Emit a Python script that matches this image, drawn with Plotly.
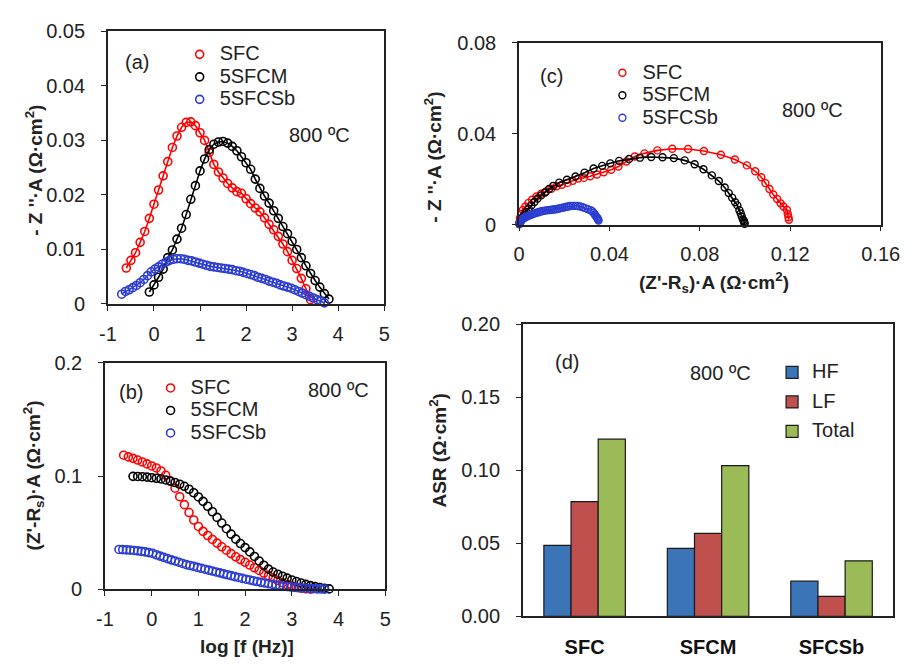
import plotly.graph_objects as go

W, H = 921, 666
FONT = "Arial, Liberation Sans, sans-serif"
INK = "#222222"

# ---------------- impedance data at 800 ºC ----------------
# log frequency grids (log10 of Hz)
logf_sfc = [-0.9, -0.8, -0.7, -0.6, -0.5, -0.4, -0.3, -0.2, -0.1, 0.0, 0.1, 0.2, 0.3, 0.4,
            0.5, 0.6, 0.7, 0.8, 0.9, 1.0, 1.1, 1.2, 1.3, 1.4, 1.5, 1.6, 1.7, 1.8, 1.9,
            2.0, 2.1, 2.2, 2.3, 2.4, 2.5, 2.6, 2.7, 2.8, 2.9, 3.0, 3.1, 3.2, 3.3, 3.4]
logf_sfcm = [-0.4, -0.3, -0.2, -0.1, 0.0, 0.1, 0.2, 0.3, 0.4, 0.5, 0.6, 0.7, 0.8, 0.9,
             1.0, 1.1, 1.2, 1.3, 1.4, 1.5, 1.6, 1.7, 1.8, 1.9, 2.0, 2.1, 2.2, 2.3, 2.4,
             2.5, 2.6, 2.7, 2.8, 2.9, 3.0, 3.1, 3.2, 3.3, 3.4, 3.5, 3.6, 3.7, 3.8]
logf_sfcsb = [-0.70, -0.62, -0.54, -0.46, -0.38, -0.30, -0.22, -0.14, -0.06, 0.02, 0.10,
              0.18, 0.26, 0.34, 0.42, 0.50, 0.58, 0.66, 0.74, 0.82, 0.90, 0.98, 1.06,
              1.14, 1.22, 1.30, 1.38, 1.46, 1.54, 1.62, 1.70, 1.78, 1.86, 1.94, 2.02,
              2.10, 2.18, 2.26, 2.34, 2.42, 2.50, 2.58, 2.66, 2.74, 2.82, 2.90, 2.98,
              3.06, 3.14, 3.22, 3.30, 3.38, 3.46, 3.54, 3.62, 3.70]

# (Z'-Rs)·A, ohm·cm2
zre_sfc = [0.1194, 0.1192, 0.1189,
           0.1185, 0.1170, 0.1157, 0.1142, 0.1125, 0.1108, 0.1090, 0.1072, 0.1045, 0.1008,
           0.0955, 0.0893, 0.0818, 0.0748, 0.0678, 0.0612, 0.0555, 0.0512, 0.0475, 0.0440,
           0.0408, 0.0375, 0.0345, 0.0315, 0.0287, 0.0262, 0.0238, 0.0214, 0.0190, 0.0166,
           0.0143, 0.0120, 0.0098, 0.0077, 0.0058, 0.0042, 0.0028, 0.0017, 0.0009, 0.0004,
           0.0001]
zre_sfcm = [0.0998, 0.0997, 0.0995, 0.0991, 0.0986, 0.0981, 0.0975, 0.0966, 0.0956, 0.0943,
            0.0928, 0.0910, 0.0884, 0.0853, 0.0816, 0.0777, 0.0733, 0.0685, 0.0635, 0.0585,
            0.0535, 0.0487, 0.0443, 0.0404, 0.0368, 0.0330, 0.0290, 0.0250, 0.0212, 0.0178,
            0.0152, 0.0133, 0.0115, 0.0098, 0.0082, 0.0068, 0.0055, 0.0043, 0.0032, 0.0023,
            0.0015, 0.0008, 0.0003]
zre_sfcsb = [0.0352, 0.0350, 0.0348, 0.0346, 0.0343, 0.0339, 0.0335, 0.0330, 0.0324, 0.0317,
             0.0305, 0.0293, 0.0282, 0.0271, 0.0260, 0.0250, 0.0239, 0.0228, 0.0218, 0.0210,
             0.0202, 0.0193, 0.0185, 0.0177, 0.0169, 0.0161, 0.0153, 0.0145, 0.0136, 0.0128,
             0.0120, 0.0112, 0.0104, 0.0096, 0.0089, 0.0082, 0.0075, 0.0068, 0.0061, 0.0055,
             0.0049, 0.0043, 0.0038, 0.0033, 0.0028, 0.0024, 0.0020, 0.0017, 0.0014, 0.0011,
             0.0009, 0.0007, 0.0005, 0.0003, 0.0002, 0.0001]

# -Z''·A, ohm·cm2
zim_sfc = [0.0022, 0.0033, 0.0047,
           0.0066, 0.0080, 0.0094, 0.0113, 0.0133, 0.0157, 0.0183, 0.0209, 0.0235, 0.0261,
           0.0287, 0.0308, 0.0324, 0.0333, 0.0334, 0.0327, 0.0314, 0.0300, 0.0278, 0.0256,
           0.0242, 0.0231, 0.0221, 0.0213, 0.0206, 0.0203, 0.0193, 0.0184, 0.0176, 0.0169,
           0.0158, 0.0146, 0.0136, 0.0124, 0.0110, 0.0096, 0.0080, 0.0065, 0.0047, 0.0028,
           0.0008]
zim_sfcm = [0.0004, 0.0010, 0.0016, 0.0022, 0.0035, 0.0049, 0.0064, 0.0085, 0.0099, 0.0119,
            0.0139, 0.0164, 0.0192, 0.0217, 0.0244, 0.0266, 0.0283, 0.0293, 0.0297, 0.0298,
            0.0295, 0.0289, 0.0281, 0.0270, 0.0259, 0.0247, 0.0229, 0.0212, 0.0198, 0.0185,
            0.0171, 0.0157, 0.0142, 0.0129, 0.0115, 0.0100, 0.0085, 0.0070, 0.0056, 0.0043,
            0.0031, 0.0019, 0.0009]
zim_sfcsb = [0.0018, 0.0023, 0.0026, 0.0030, 0.0034, 0.0039, 0.0045, 0.0052, 0.0059, 0.0064,
             0.0068, 0.0073, 0.0077, 0.0080, 0.0082, 0.0083, 0.0083, 0.0082, 0.0080, 0.0079,
             0.0077, 0.0075, 0.0073, 0.0071, 0.0069, 0.0068, 0.0067, 0.0066, 0.0065, 0.0064,
             0.0063, 0.0061, 0.0060, 0.0058, 0.0056, 0.0054, 0.0052, 0.0049, 0.0047, 0.0045,
             0.0042, 0.0040, 0.0038, 0.0035, 0.0033, 0.0031, 0.0029, 0.0026, 0.0023, 0.0020,
             0.0017, 0.0014, 0.0011, 0.0008, 0.0005, 0.0002]

# lowest log f shown in the two Bode panels for each sample
bode_im_from = {"SFC": -0.6, "5SFCM": -0.1, "5SFCSb": -0.7}
bode_re_from = {"SFC": -0.6, "5SFCM": -0.4, "5SFCSb": -0.7}

# log f axis ticks (plain hyphen for the minus sign)
logf_ticks = [-1, 0, 1, 2, 3, 4, 5]
logf_ticktext = ["-1", "0", "1", "2", "3", "4", "5"]

# ---------------- ASR summary ----------------
samples = ["SFC", "SFCM", "SFCSb"]
asr_hf = [0.0486, 0.0466, 0.0241]
asr_lf = [0.0785, 0.0568, 0.0137]
asr_total = [0.1213, 0.1032, 0.0380]

series = [
    ("SFC", "#FF0000", logf_sfc, zre_sfc, zim_sfc),
    ("5SFCM", "#000000", logf_sfcm, zre_sfcm, zim_sfcm),
    ("5SFCSb", "#2B3CD2", logf_sfcsb, zre_sfcsb, zim_sfcsb),
]


def px(x):
    return x / W


def py(y):
    return 1 - y / H


def label(text):
    # legend rows are spaced by the legend font size; the label itself is drawn larger
    return f"<span style='font-size:20px'>{text}</span>"


def window(lf, vals, lo):
    keep = [i for i, v in enumerate(lf) if v >= lo - 1e-9]
    return [lf[i] for i in keep], [vals[i] for i in keep]


fig = go.Figure()

for name, color, lf, zr, zi in series:
    xa, ya = window(lf, zi, bode_im_from[name])
    xb, yb = window(lf, zr, bode_re_from[name])
    # (a) -Z'' vs log f : fitted line + symbols
    fig.add_trace(go.Scatter(x=xa, y=ya, mode="lines", line=dict(color=color, width=1.6),
                             showlegend=False, xaxis="x", yaxis="y", cliponaxis=False,
                             hoverinfo="skip"))
    fig.add_trace(go.Scatter(x=xa, y=ya, mode="markers", name=label(name), legend="legend",
                             marker=dict(symbol="circle-open", size=8, color=color,
                                         line=dict(width=1.6, color=color)),
                             xaxis="x", yaxis="y", cliponaxis=False))
    # (b) Z' vs log f : symbols only
    fig.add_trace(go.Scatter(x=xb, y=yb, mode="markers", name=label(name), legend="legend2",
                             marker=dict(symbol="circle-open", size=8, color=color,
                                         line=dict(width=1.6, color=color)),
                             xaxis="x2", yaxis="y2", cliponaxis=False))
    # (c) Nyquist plot
    fig.add_trace(go.Scatter(x=zr, y=zi, mode="lines", line=dict(color=color, width=1.6),
                             showlegend=False, xaxis="x3", yaxis="y3", cliponaxis=False,
                             hoverinfo="skip"))
    fig.add_trace(go.Scatter(x=zr, y=zi, mode="markers", name=label(name), legend="legend3",
                             marker=dict(symbol="circle-open", size=7, color=color,
                                         line=dict(width=1.4, color=color)),
                             xaxis="x3", yaxis="y3", cliponaxis=False))

# (d) ASR bars
for nm, vals, col in [("HF", asr_hf, "#3C74B8"), ("LF", asr_lf, "#C0504D"),
                      ("Total", asr_total, "#9BBB59")]:
    fig.add_trace(go.Bar(x=samples, y=vals, name=label(nm), legend="legend4", legendgroup=nm,
                         marker=dict(color=col, line=dict(color="#1a1a1a", width=1.2)),
                         xaxis="x4", yaxis="y4"))


def axis(dom, anchor, **kw):
    d = dict(domain=dom, anchor=anchor, showline=True, linecolor=INK, linewidth=1.6,
             mirror=True, ticks="outside", ticklen=5, tickwidth=1.3, tickcolor=INK,
             showgrid=False, zeroline=False,
             tickfont=dict(family=FONT, size=20, color=INK))
    d.update(kw)
    return d


logf_axis = dict(range=[-1, 5], tickmode="array", tickvals=logf_ticks,
                 ticktext=logf_ticktext, ticklabelstandoff=6)

layout = dict(
    width=W, height=H, margin=dict(l=0, r=0, t=0, b=0), autosize=False,
    paper_bgcolor="white", plot_bgcolor="white",
    font=dict(family=FONT, color=INK),
    barmode="group", bargap=0.34, bargroupgap=0.0,
    xaxis=axis([px(102), px(387)], "y", **logf_axis),
    yaxis=axis([py(303), py(21)], "x", range=[0, 0.05], dtick=0.01, ticklabelstandoff=12),
    xaxis2=axis([px(99), px(388)], "y2", **logf_axis),
    yaxis2=axis([py(598), py(364)], "x2", range=[0, 0.2], dtick=0.1, ticklabelstandoff=12),
    xaxis3=axis([px(526), px(899)], "y3", range=[0, 0.16], dtick=0.04, ticklabelstandoff=6),
    yaxis3=axis([py(221), py(33)], "x3", range=[0, 0.08], dtick=0.04, ticklabelstandoff=12),
    xaxis4=axis([px(530), px(912)], "y4", ticks="", ticklabelstandoff=12,
                tickfont=dict(family=FONT, size=20, color="#111", weight="bold")),
    yaxis4=axis([py(626), py(324)], "x4", range=[0, 0.2], dtick=0.05, tickformat=".2f",
                ticklabelstandoff=12),
)

legend_common = dict(bgcolor="rgba(0,0,0,0)", borderwidth=0, xanchor="left",
                     yanchor="top", font=dict(family=FONT, size=15, color=INK),
                     itemwidth=30)
layout["legend"] = dict(legend_common, x=px(176), y=py(28))
layout["legend2"] = dict(legend_common, x=px(146), y=py(373))
layout["legend3"] = dict(legend_common, x=px(612), y=py(47))
layout["legend4"] = dict(legend_common, x=px(787), y=py(357), tracegroupgap=7)

fig.update_layout(**layout)


def note(x, y, text, size=20, angle=0, bold=False):
    fig.add_annotation(x=px(x), y=py(y), xref="paper", yref="paper", text=text,
                       showarrow=False, textangle=angle, xanchor="center",
                       yanchor="middle",
                       font=dict(family=FONT, size=size, color=INK,
                                 weight="bold" if bold else "normal"))


# panel tags and temperature
note(132, 53, "(a)")
note(320, 128, "800 ºC")
note(126, 394, "(b)")
note(340, 392, "800 ºC")
note(559, 67, "(c)")
note(829, 102, "800 ºC")
note(576, 363, "(d)")
note(734, 374, "800 ºC")

# axis titles
zim_title = "- Z ''·A (Ω·cm<sup>2</sup>)"
zre_title = "(Z'-R<sub>s</sub>)·A (Ω·cm<sup>2</sup>)"
note(25, 165, zim_title, size=19, angle=-90, bold=True)
note(25, 480, zre_title, size=19, angle=-90, bold=True)
note(245, 657, "log [f (Hz)]", size=19, bold=True)
note(437, 151, zim_title, size=19, angle=-90, bold=True)
note(727, 281, zre_title, size=19, bold=True)
note(442, 455, "ASR (Ω·cm<sup>2</sup>)", size=19, angle=-90, bold=True)

fig.write_html("out.html")
